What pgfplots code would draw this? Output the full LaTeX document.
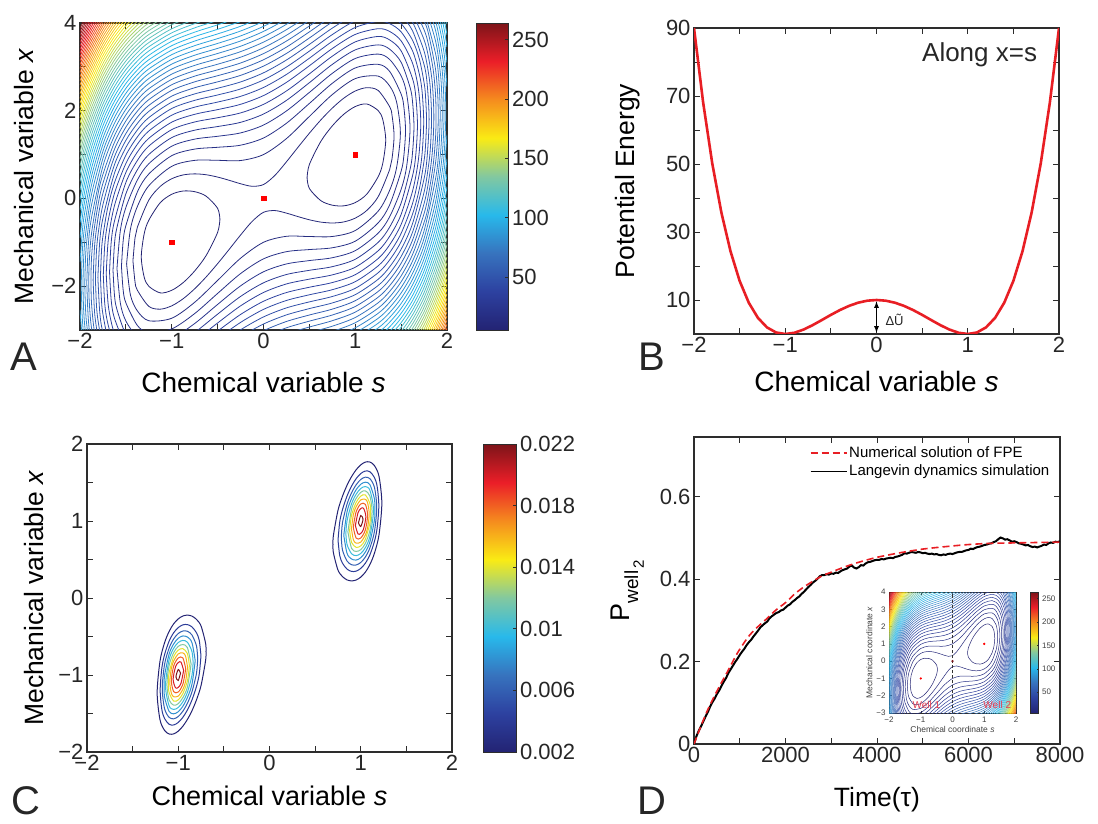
\documentclass[border=0pt]{standalone}
\usepackage{fontspec}
\setmainfont{Liberation Sans}
\setsansfont{Liberation Sans}
\usepackage{pgfplots}
\pgfplotsset{compat=1.18}

\definecolor{M0}{RGB}{35,35,115}
\definecolor{M1}{RGB}{45,65,160}
\definecolor{M2}{RGB}{55,115,190}
\definecolor{M3}{RGB}{40,185,235}
\definecolor{M4}{RGB}{130,200,160}
\definecolor{M5}{RGB}{250,235,20}
\definecolor{M6}{RGB}{245,140,30}
\definecolor{M7}{RGB}{235,30,40}
\definecolor{M8}{RGB}{125,20,25}
\definecolor{axgray}{RGB}{45,45,45}
\definecolor{curvered}{RGB}{232,30,36}
\definecolor{wellred}{RGB}{230,60,80}

\newcommand{\fs}[1]{\fontsize{#1}{#1}\selectfont}

\pgfplotsset{
  colormap={mjet}{rgb255(0cm)=(35,35,115) rgb255(1cm)=(45,65,160) rgb255(2cm)=(55,115,190)
    rgb255(3cm)=(40,185,235) rgb255(4cm)=(130,200,160) rgb255(5cm)=(250,235,20)
    rgb255(6cm)=(245,140,30) rgb255(7cm)=(235,30,40) rgb255(8cm)=(125,20,25)},
  panel/.style={
    scale only axis, anchor=south west,
    axis line style={line width=1.1pt, draw=axgray},
    tick style={line width=0.9pt, draw=axgray},
    tick align=inside,
    major tick length=6pt, minor tick length=6pt,
    ticklabel style={font=\fs{22}, text=black!85},
  },
  ctr/.style={line width=0.8pt, smooth},
}

% contour lines of the potential, levels 6 + 4.5k
\newcommand{\ContoursA}{%
\addplot[ctr,draw=M0] coordinates {(0.475,0.475)(0.5,0.774)(0.625,1.301)(0.75,1.654)(0.875,1.919)(1,2.095)(1.125,2.154)(1.25,2.003)(1.3,1.798)(1.332,1.332)(1.3,0.802)(1.25,0.497)(1.125,0.096)(1,-0.095)(0.875,-0.169)(0.75,-0.154)(0.625,-0.051)(0.5,0.226)(0.475,0.475)};
\addplot[ctr,draw=M0] coordinates {(-0.475,-0.475)(-0.5,-0.774)(-0.625,-1.301)(-0.75,-1.654)(-0.875,-1.919)(-1,-2.095)(-1.125,-2.154)(-1.25,-2.003)(-1.3,-1.798)(-1.332,-1.332)(-1.3,-0.802)(-1.25,-0.497)(-1.125,-0.096)(-1,0.095)(-0.875,0.169)(-0.75,0.154)(-0.625,0.051)(-0.5,-0.226)(-0.475,-0.475)};
\addplot[ctr,draw=M1!16!M0] coordinates {(-1.423,-1.423)(-1.4,-0.893)(-1.375,-0.658)(-1.25,-0.039)(-1.125,0.275)(-1,0.449)(-0.875,0.536)(-0.75,0.56)(-0.625,0.54)(-0.5,0.487)(-0.375,0.414)(-0.25,0.335)(-0.125,0.277)(0,0.316)(0.125,0.527)(0.25,0.835)(0.375,1.164)(0.5,1.487)(0.625,1.79)(0.75,2.06)(0.875,2.286)(1,2.449)(1.125,2.525)(1.25,2.461)(1.375,2.092)(1.4,1.907)(1.423,1.423)(1.4,0.893)(1.375,0.658)(1.25,0.039)(1.125,-0.275)(1,-0.449)(0.875,-0.536)(0.75,-0.56)(0.625,-0.54)(0.5,-0.487)(0.375,-0.414)(0.25,-0.335)(0.125,-0.277)(0,-0.316)(-0.125,-0.527)(-0.25,-0.835)(-0.375,-1.164)(-0.5,-1.487)(-0.625,-1.79)(-0.75,-2.06)(-0.875,-2.286)(-1,-2.449)(-1.125,-2.525)(-1.25,-2.461)(-1.375,-2.092)(-1.4,-1.907)(-1.423,-1.423)};
\addplot[ctr,draw=M1!30!M0] coordinates {(-1.492,-1.492)(-1.45,-0.696)(-1.375,-0.186)(-1.25,0.289)(-1,0.732)(-0.75,0.868)(-0.5,0.869)(-0.25,0.864)(0,1)(0.25,1.364)(0.5,1.869)(0.75,2.368)(1,2.732)(1.25,2.789)(1.375,2.564)(1.45,2.204)(1.492,1.492)(1.45,0.696)(1.375,0.186)(1.25,-0.289)(1,-0.732)(0.75,-0.868)(0.5,-0.869)(0.25,-0.864)(0,-1)(-0.25,-1.364)(-0.5,-1.869)(-0.75,-2.368)(-1,-2.732)(-1.25,-2.789)(-1.375,-2.564)(-1.45,-2.204)(-1.492,-1.492)};
\addplot[ctr,draw=M1!44!M0] coordinates {(-1.548,-1.548)(-1.53,-0.979)(-1.5,-0.62)(-1.375,0.146)(-1.25,0.557)(-1,0.975)(-0.75,1.125)(-0.5,1.166)(-0.25,1.214)(0,1.378)(0.25,1.714)(0.5,2.166)(0.75,2.625)(1,2.975)(1.25,3.057)(1.375,2.896)(1.5,2.38)(1.53,2.081)(1.548,1.548)(1.53,0.979)(1.5,0.62)(1.375,-0.146)(1.25,-0.557)(1,-0.975)(0.75,-1.125)(0.5,-1.166)(0.25,-1.214)(0,-1.378)(-0.25,-1.714)(-0.5,-2.166)(-0.75,-2.625)(-1,-2.975)(-1.25,-3.057)(-1.375,-2.896)(-1.5,-2.38)(-1.53,-2.081)(-1.548,-1.548)};
\addplot[ctr,draw=M1!58!M0] coordinates {(-1.597,-1.597)(-1.56,-0.729)(-1.5,-0.206)(-1.375,0.418)(-1.25,0.791)(-1,1.191)(-0.75,1.352)(-0.5,1.417)(-0.25,1.494)(0,1.673)(0.25,1.994)(0.5,2.417)(0.75,2.852)(1,3.191)(1.25,3.291)(1.375,3.168)(1.5,2.794)(1.56,2.391)(1.597,1.597)(1.56,0.729)(1.5,0.206)(1.375,-0.418)(1.25,-0.791)(1,-1.191)(0.75,-1.352)(0.5,-1.417)(0.25,-1.494)(0,-1.673)(-0.25,-1.994)(-0.5,-2.417)(-0.75,-2.852)(-1,-3.191)(-1.25,-3.291)(-1.375,-3.168)(-1.5,-2.794)(-1.56,-2.391)(-1.597,-1.597)};
\addplot[ctr,draw=M1!72!M0] coordinates {(-1.64,-1.64)(-1.625,-1.062)(-1.6,-0.687)(-1.5,0.105)(-1.375,0.653)(-1.25,1.001)(-1,1.387)(-0.75,1.556)(-0.5,1.639)(-0.25,1.735)(0,1.924)(0.25,2.235)(0.5,2.639)(0.75,3.056)(1,3.387)(1.25,3.501)(1.375,3.403)(1.5,3.105)(1.6,2.513)(1.625,2.188)(1.64,1.64)(1.625,1.062)(1.6,0.687)(1.5,-0.105)(1.375,-0.653)(1.25,-1.001)(1,-1.387)(0.75,-1.556)(0.5,-1.639)(0.25,-1.735)(0,-1.924)(-0.25,-2.235)(-0.5,-2.639)(-0.75,-3.056)(-1,-3.387)(-1.25,-3.501)(-1.375,-3.403)(-1.5,-3.105)(-1.6,-2.513)(-1.625,-2.188)(-1.64,-1.64)};
\addplot[ctr,draw=M1!86!M0] coordinates {(-1.678,-1.678)(-1.66,-1)(-1.625,-0.522)(-1.5,0.364)(-1.375,0.864)(-1.25,1.193)(-1,1.569)(-0.75,1.743)(-0.5,1.84)(-0.25,1.95)(0,2.145)(0.25,2.45)(0.5,2.84)(0.75,3.243)(1,3.569)(1.25,3.693)(1.375,3.614)(1.5,3.364)(1.625,2.728)(1.66,2.32)(1.678,1.678)(1.66,1)(1.625,0.522)(1.5,-0.364)(1.375,-0.864)(1.25,-1.193)(1,-1.569)(0.75,-1.743)(0.5,-1.84)(0.25,-1.95)(0,-2.145)(-0.25,-2.45)(-0.5,-2.84)(-0.75,-3.243)(-1,-3.569)(-1.25,-3.693)(-1.375,-3.614)(-1.5,-3.364)(-1.625,-2.728)(-1.66,-2.32)(-1.678,-1.678)};
\addplot[ctr,draw=M1] coordinates {(-1.714,-1.714)(-1.69,-0.909)(-1.625,-0.17)(-1.5,0.592)(-1.375,1.057)(-1.25,1.37)(-1,1.739)(-0.75,1.918)(-0.5,2.025)(-0.25,2.146)(0,2.345)(0.25,2.646)(0.5,3.025)(0.75,3.418)(1,3.739)(1.25,3.87)(1.375,3.807)(1.5,3.592)(1.625,3.08)(1.69,2.471)(1.714,1.714)(1.69,0.909)(1.625,0.17)(1.5,-0.592)(1.375,-1.057)(1.25,-1.37)(1,-1.739)(0.75,-1.918)(0.5,-2.025)(0.25,-2.146)(0,-2.345)(-0.25,-2.646)(-0.5,-3.025)(-0.75,-3.418)(-1,-3.739)(-1.25,-3.87)(-1.375,-3.807)(-1.5,-3.592)(-1.625,-3.08)(-1.69,-2.471)(-1.714,-1.714)};
\addplot[ctr,draw=M2!13!M1] coordinates {(-1.746,-1.746)(-1.73,-1.054)(-1.7,-0.579)(-1.625,0.112)(-1.5,0.797)(-1.375,1.235)(-1.25,1.537)(-1,1.898)(-0.75,2.081)(-0.5,2.197)(-0.25,2.327)(0,2.53)(0.25,2.827)(0.5,3.197)(0.75,3.581)(1,3.898)(1.25,4.037)(1.375,3.985)(1.5,3.797)(1.625,3.362)(1.7,2.821)(1.73,2.406)(1.746,1.746)(1.73,1.054)(1.7,0.579)(1.625,-0.112)(1.5,-0.797)(1.375,-1.235)(1.25,-1.537)(1,-1.898)(0.75,-2.081)(0.5,-2.197)(0.25,-2.327)(0,-2.53)(-0.25,-2.827)(-0.5,-3.197)(-0.75,-3.581)(-1,-3.898)(-1.25,-4.037)(-1.375,-3.985)(-1.5,-3.797)(-1.625,-3.362)(-1.7,-2.821)(-1.73,-2.406)(-1.746,-1.746)};
\addplot[ctr,draw=M2!27!M1] coordinates {(-1.777,-1.777)(-1.765,-1.172)(-1.75,-0.86)(-1.7,-0.232)(-1.625,0.354)(-1.5,0.985)(-1.375,1.402)(-1.25,1.694)(-1,2.05)(-0.75,2.236)(-0.5,2.359)(-0.25,2.496)(0,2.702)(0.25,2.996)(0.5,3.359)(0.75,3.736)(1,4.05)(1.25,4.194)(1.375,4.152)(1.5,3.985)(1.625,3.604)(1.7,3.168)(1.75,2.64)(1.765,2.358)(1.777,1.777)(1.765,1.172)(1.75,0.86)(1.7,0.232)(1.625,-0.354)(1.5,-0.985)(1.375,-1.402)(1.25,-1.694)(1,-2.05)(0.75,-2.236)(0.5,-2.359)(0.25,-2.496)(0,-2.702)(-0.25,-2.996)(-0.5,-3.359)(-0.75,-3.736)(-1,-4.05)(-1.25,-4.194)(-1.375,-4.152)(-1.5,-3.985)(-1.625,-3.604)(-1.7,-3.168)(-1.75,-2.64)(-1.765,-2.358)(-1.777,-1.777)};
\addplot[ctr,draw=M2!41!M1] coordinates {(-1.805,-1.805)(-1.785,-0.985)(-1.75,-0.449)(-1.625,0.57)(-1.5,1.16)(-1.375,1.56)(-1.25,1.843)(-1,2.194)(-0.75,2.383)(-0.5,2.512)(-0.25,2.656)(0,2.864)(0.25,3.156)(0.5,3.512)(0.75,3.883)(1,4.194)(1.25,4.343)(1.375,4.31)(1.5,4.16)(1.625,3.82)(1.75,3.051)(1.785,2.585)(1.805,1.805)(1.785,0.985)(1.75,0.449)(1.625,-0.57)(1.5,-1.16)(1.375,-1.56)(1.25,-1.843)(1,-2.194)(0.75,-2.383)(0.5,-2.512)(0.25,-2.656)(0,-2.864)(-0.25,-3.156)(-0.5,-3.512)(-0.75,-3.883)(-1,-4.194)(-1.25,-4.343)(-1.375,-4.31)(-1.5,-4.16)(-1.625,-3.82)(-1.75,-3.051)(-1.785,-2.585)(-1.805,-1.805)};
\addplot[ctr,draw=M2!55!M1] coordinates {(-1.832,-1.832)(-1.82,-1.183)(-1.8,-0.768)(-1.75,-0.14)(-1.625,0.766)(-1.5,1.324)(-1.375,1.709)(-1.25,1.985)(-1,2.332)(-0.75,2.524)(-0.5,2.658)(-0.25,2.806)(0,3.017)(0.25,3.306)(0.5,3.658)(0.75,4.024)(1,4.332)(1.25,4.485)(1.375,4.459)(1.5,4.324)(1.625,4.016)(1.75,3.36)(1.8,2.832)(1.82,2.457)(1.832,1.832)(1.82,1.183)(1.8,0.768)(1.75,0.14)(1.625,-0.766)(1.5,-1.324)(1.375,-1.709)(1.25,-1.985)(1,-2.332)(0.75,-2.524)(0.5,-2.658)(0.25,-2.806)(0,-3.017)(-0.25,-3.306)(-0.5,-3.658)(-0.75,-4.024)(-1,-4.332)(-1.25,-4.485)(-1.375,-4.459)(-1.5,-4.324)(-1.625,-4.016)(-1.75,-3.36)(-1.8,-2.832)(-1.82,-2.457)(-1.832,-1.832)};
\addplot[ctr,draw=M2!69!M1] coordinates {(-1.857,-1.857)(-1.84,-1.054)(-1.8,-0.398)(-1.75,0.119)(-1.625,0.947)(-1.5,1.479)(-1.375,1.852)(-1.25,2.121)(-1,2.464)(-0.75,2.658)(-0.5,2.798)(-0.25,2.95)(0,3.162)(0.25,3.45)(0.5,3.798)(0.75,4.158)(1,4.464)(1.25,4.621)(1.5,4.479)(1.625,4.197)(1.75,3.619)(1.8,3.202)(1.84,2.626)(1.857,1.857)(1.84,1.054)(1.8,0.398)(1.75,-0.119)(1.625,-0.947)(1.5,-1.479)(1.375,-1.852)(1.25,-2.121)(1,-2.464)(0.75,-2.658)(0.5,-2.798)(0.25,-2.95)(0,-3.162)(-0.25,-3.45)(-0.5,-3.798)(-0.75,-4.158)(-1,-4.464)(-1.25,-4.621)(-1.5,-4.479)(-1.625,-4.197)(-1.75,-3.619)(-1.8,-3.202)(-1.84,-2.626)(-1.857,-1.857)};
\addplot[ctr,draw=M2!83!M1] coordinates {(-1.881,-1.881)(-1.875,-1.382)(-1.85,-0.772)(-1.8,-0.107)(-1.75,0.346)(-1.625,1.117)(-1.5,1.626)(-1.375,1.989)(-1.25,2.252)(-1,2.592)(-0.75,2.788)(-0.5,2.932)(-0.25,3.088)(0,3.302)(0.25,3.588)(0.5,3.932)(0.75,4.288)(1,4.592)(1.5,4.626)(1.625,4.367)(1.75,3.846)(1.8,3.493)(1.85,2.928)(1.875,2.368)(1.881,1.881)(1.875,1.382)(1.85,0.772)(1.8,0.107)(1.75,-0.346)(1.625,-1.117)(1.5,-1.626)(1.375,-1.989)(1.25,-2.252)(1,-2.592)(0.75,-2.788)(0.5,-2.932)(0.25,-3.088)(0,-3.302)(-0.25,-3.588)(-0.5,-3.932)(-0.75,-4.288)(-1,-4.592)(-1.5,-4.626)(-1.625,-4.367)(-1.75,-3.846)(-1.8,-3.493)(-1.85,-2.928)(-1.875,-2.368)(-1.881,-1.881)};
\addplot[ctr,draw=M2] coordinates {(-1.904,-1.904)(-1.9,-1.48)(-1.875,-0.806)(-1.8,0.14)(-1.75,0.55)(-1.625,1.276)(-1.5,1.767)(-1.375,2.12)(-1.25,2.379)(-1,2.715)(-0.75,2.913)(-0.5,3.06)(-0.25,3.22)(0,3.435)(0.25,3.72)(0.5,4.06)(0.75,4.413)(1.5,4.767)(1.625,4.526)(1.75,4.05)(1.8,3.74)(1.875,2.944)(1.9,2.32)(1.904,1.904)(1.9,1.48)(1.875,0.806)(1.8,-0.14)(1.75,-0.55)(1.625,-1.276)(1.5,-1.767)(1.375,-2.12)(1.25,-2.379)(1,-2.715)(0.75,-2.913)(0.5,-3.06)(0.25,-3.22)(0,-3.435)(-0.25,-3.72)(-0.5,-4.06)(-0.75,-4.413)(-1.5,-4.767)(-1.625,-4.526)(-1.75,-4.05)(-1.8,-3.74)(-1.875,-2.944)(-1.9,-2.32)(-1.904,-1.904)};
\addplot[ctr,draw=M3!11!M2] coordinates {(-1.926,-1.926)(-1.91,-1.088)(-1.875,-0.446)(-1.75,0.738)(-1.625,1.427)(-1.5,1.902)(-1.375,2.246)(-1.25,2.501)(-1,2.834)(-0.75,3.034)(-0.5,3.184)(-0.25,3.347)(0,3.564)(0.25,3.847)(0.5,4.184)(0.75,4.534)(1.5,4.902)(1.625,4.677)(1.75,4.238)(1.875,3.304)(1.91,2.732)(1.926,1.926)(1.91,1.088)(1.875,0.446)(1.75,-0.738)(1.625,-1.427)(1.5,-1.902)(1.375,-2.246)(1.25,-2.501)(1,-2.834)(0.75,-3.034)(0.5,-3.184)(0.25,-3.347)(0,-3.564)(-0.25,-3.847)(-0.5,-4.184)(-0.75,-4.534)(-1.5,-4.902)(-1.625,-4.677)(-1.75,-4.238)(-1.875,-3.304)(-1.91,-2.732)(-1.926,-1.926)};
\addplot[ctr,draw=M3!25!M2] coordinates {(-1.948,-1.948)(-1.94,-1.37)(-1.925,-0.946)(-1.875,-0.159)(-1.75,0.913)(-1.625,1.571)(-1.5,2.032)(-1.375,2.369)(-1.25,2.619)(-1,2.95)(-0.75,3.151)(-0.5,3.305)(-0.25,3.47)(0,3.688)(0.25,3.97)(0.5,4.305)(0.75,4.651)(1.5,5.032)(1.625,4.821)(1.75,4.413)(1.875,3.591)(1.925,2.904)(1.94,2.51)(1.948,1.948)(1.94,1.37)(1.925,0.946)(1.875,0.159)(1.75,-0.913)(1.625,-1.571)(1.5,-2.032)(1.375,-2.369)(1.25,-2.619)(1,-2.95)(0.75,-3.151)(0.5,-3.305)(0.25,-3.47)(0,-3.688)(-0.25,-3.97)(-0.5,-4.305)(-0.75,-4.651)(-1.5,-5.032)(-1.625,-4.821)(-1.75,-4.413)(-1.875,-3.591)(-1.925,-2.904)(-1.94,-2.51)(-1.948,-1.948)};
\addplot[ctr,draw=M3!39!M2] coordinates {(-1.968,-1.968)(-1.96,-1.368)(-1.94,-0.833)(-1.875,0.085)(-1.75,1.077)(-1.625,1.709)(-1.5,2.157)(-1.375,2.487)(-1.25,2.733)(-1,3.062)(-0.75,3.265)(-0.5,3.421)(-0.25,3.59)(0,3.808)(0.25,4.09)(0.5,4.421)(1.5,5.157)(1.625,4.959)(1.75,4.577)(1.875,3.835)(1.94,3.047)(1.96,2.552)(1.968,1.968)(1.96,1.368)(1.94,0.833)(1.875,-0.085)(1.75,-1.077)(1.625,-1.709)(1.5,-2.157)(1.375,-2.487)(1.25,-2.733)(1,-3.062)(0.75,-3.265)(0.5,-3.421)(0.25,-3.59)(0,-3.808)(-0.25,-4.09)(-0.5,-4.421)(-1.5,-5.157)(-1.625,-4.959)(-1.75,-4.577)(-1.875,-3.835)(-1.94,-3.047)(-1.96,-2.552)(-1.968,-1.968)};
\addplot[ctr,draw=M3!53!M2] coordinates {(-1.987,-1.987)(-1.975,-1.218)(-1.95,-0.649)(-1.875,0.303)(-1.75,1.232)(-1.625,1.842)(-1.5,2.278)(-1.375,2.602)(-1.25,2.845)(-1,3.171)(-0.75,3.375)(-0.5,3.534)(-0.25,3.705)(0,3.924)(0.25,4.205)(0.5,4.534)(1.5,5.278)(1.625,5.092)(1.75,4.732)(1.875,4.053)(1.95,3.251)(1.975,2.732)(1.987,1.987)(1.975,1.218)(1.95,0.649)(1.875,-0.303)(1.75,-1.232)(1.625,-1.842)(1.5,-2.278)(1.375,-2.602)(1.25,-2.845)(1,-3.171)(0.75,-3.375)(0.5,-3.534)(0.25,-3.705)(0,-3.924)(-0.25,-4.205)(-0.5,-4.534)(-1.5,-5.278)(-1.625,-5.092)(-1.75,-4.732)(-1.875,-4.053)(-1.95,-3.251)(-1.975,-2.732)(-1.987,-1.987)};
% open levels
\addplot[ctr,draw=M3!67!M2] coordinates {(-2,-1.452)(-1.975,-0.761)(-1.95,-0.34)(-1.875,0.501)(-1.75,1.379)(-1.625,1.969)(-1.5,2.396)(-1.375,2.713)(-1.25,2.953)(-1,3.278)(-0.75,3.483)(-0.5,3.644)(-0.25,3.817)(0,4.037)(0.25,4.317)};
\addplot[ctr,draw=M3!67!M2] coordinates {(2,1.452)(1.975,0.761)(1.95,0.34)(1.875,-0.501)(1.75,-1.379)(1.625,-1.969)(1.5,-2.396)(1.375,-2.713)(1.25,-2.953)(1,-3.278)(0.75,-3.483)};
\addplot[ctr,draw=M3!67!M2] coordinates {(1.875,4.251)(1.925,3.838)(1.95,3.56)(1.975,3.189)(2,2.548)};
\addplot[ctr,draw=M3!67!M2] coordinates {(-1.925,-3.838)(-1.95,-3.56)(-1.975,-3.189)(-2,-2.548)};
\addplot[ctr,draw=M3!80!M2] coordinates {(-2,-0.905)(-1.975,-0.435)(-1.95,-0.081)(-1.875,0.683)(-1.75,1.52)(-1.625,2.092)(-1.5,2.509)(-1.375,2.822)(-1.25,3.059)(-1,3.382)(-0.75,3.588)(-0.5,3.751)(-0.25,3.926)(0,4.147)};
\addplot[ctr,draw=M3!80!M2] coordinates {(2,0.905)(1.975,0.435)(1.95,0.081)(1.875,-0.683)(1.75,-1.52)(1.625,-2.092)(1.5,-2.509)(1.375,-2.822)(1.25,-3.059)(1,-3.382)};
\addplot[ctr,draw=M3!80!M2] coordinates {(1.875,4.433)(1.925,4.06)(1.95,3.819)(1.975,3.515)(2,3.095)};
\addplot[ctr,draw=M3!94!M2] coordinates {(-2,-0.551)(-1.95,0.146)(-1.875,0.853)(-1.75,1.655)(-1.625,2.211)(-1.5,2.62)(-1.375,2.928)(-1.25,3.162)(-1,3.483)(-0.75,3.69)(-0.5,3.856)(-0.25,4.033)};
\addplot[ctr,draw=M3!94!M2] coordinates {(2,0.551)(1.95,-0.146)(1.875,-0.853)(1.75,-1.655)(1.625,-2.211)(1.5,-2.62)(1.375,-2.928)(1.25,-3.162)(1,-3.483)};
\addplot[ctr,draw=M3!94!M2] coordinates {(1.9,4.445)(1.95,4.046)(1.975,3.784)(2,3.449)};
\addplot[ctr,draw=M4!8!M3] coordinates {(-2,-0.268)(-1.95,0.35)(-1.875,1.013)(-1.75,1.784)(-1.625,2.327)(-1.5,2.728)(-1.375,3.031)(-1.25,3.263)(-1,3.583)(-0.75,3.791)(-0.5,3.958)(-0.25,4.137)};
\addplot[ctr,draw=M4!8!M3] coordinates {(2,0.268)(1.95,-0.35)(1.875,-1.013)(1.75,-1.784)(1.625,-2.327)(1.5,-2.728)(1.375,-3.031)(1.25,-3.263)};
\addplot[ctr,draw=M4!8!M3] coordinates {(1.95,4.25)(1.975,4.018)(2,3.732)};
\addplot[ctr,draw=M4!22!M3] coordinates {(-2,-0.025)(-1.95,0.538)(-1.875,1.165)(-1.75,1.91)(-1.625,2.439)(-1.5,2.833)(-1.375,3.132)(-1.25,3.362)(-1,3.68)(-0.75,3.889)(-0.5,4.058)};
\addplot[ctr,draw=M4!22!M3] coordinates {(2,0.025)(1.95,-0.538)(1.875,-1.165)(1.75,-1.91)(1.625,-2.439)(1.5,-2.833)(1.375,-3.132)(1.25,-3.362)};
\addplot[ctr,draw=M4!22!M3] coordinates {(1.975,4.227)(2,3.975)};
\addplot[ctr,draw=M4!36!M3] coordinates {(-2,0.191)(-1.95,0.713)(-1.875,1.31)(-1.75,2.03)(-1.625,2.548)(-1.5,2.936)(-1.375,3.231)(-1.25,3.458)(-1,3.775)(-0.75,3.985)(-0.5,4.156)};
\addplot[ctr,draw=M4!36!M3] coordinates {(2,-0.191)(1.95,-0.713)(1.875,-1.31)(1.75,-2.03)(1.625,-2.548)(1.5,-2.936)(1.375,-3.231)(1.25,-3.458)};
\addplot[ctr,draw=M4!50!M3] coordinates {(-2,0.387)(-1.95,0.877)(-1.875,1.448)(-1.75,2.148)(-1.625,2.655)(-1.5,3.036)(-1.375,3.328)(-1.25,3.553)(-1,3.868)(-0.75,4.079)};
\addplot[ctr,draw=M4!50!M3] coordinates {(2,-0.387)(1.95,-0.877)(1.875,-1.448)(1.75,-2.148)(1.625,-2.655)(1.5,-3.036)(1.375,-3.328)};
\addplot[ctr,draw=M4!64!M3] coordinates {(-2,0.569)(-1.95,1.032)(-1.875,1.581)(-1.75,2.261)(-1.625,2.759)(-1.5,3.134)(-1.375,3.422)(-1.25,3.646)(-1,3.96)(-0.75,4.171)};
\addplot[ctr,draw=M4!64!M3] coordinates {(2,-0.569)(1.95,-1.032)(1.875,-1.581)(1.75,-2.261)(1.625,-2.759)(1.5,-3.134)};
\addplot[ctr,draw=M4!78!M3] coordinates {(-2,0.739)(-1.95,1.179)(-1.875,1.709)(-1.75,2.372)(-1.625,2.86)(-1.5,3.23)(-1.375,3.515)(-1.25,3.737)(-1,4.05)};
\addplot[ctr,draw=M4!78!M3] coordinates {(2,-0.739)(1.95,-1.179)(1.875,-1.709)(1.75,-2.372)(1.625,-2.86)(1.5,-3.23)};
\addplot[ctr,draw=M4!92!M3] coordinates {(-2,0.898)(-1.95,1.32)(-1.875,1.832)(-1.75,2.48)(-1.625,2.959)(-1.5,3.324)(-1.375,3.606)(-1.25,3.826)(-1,4.138)};
\addplot[ctr,draw=M4!92!M3] coordinates {(2,-0.898)(1.95,-1.32)(1.875,-1.832)(1.75,-2.48)(1.625,-2.959)(1.5,-3.324)};
\addplot[ctr,draw=M5!6!M4] coordinates {(-2,1.05)(-1.95,1.455)(-1.875,1.952)(-1.75,2.585)(-1.625,3.057)(-1.5,3.417)(-1.375,3.696)(-1.25,3.914)(-1,4.225)};
\addplot[ctr,draw=M5!6!M4] coordinates {(2,-1.05)(1.95,-1.455)(1.875,-1.952)(1.75,-2.585)(1.625,-3.057)};
\addplot[ctr,draw=M5!20!M4] coordinates {(-2,1.194)(-1.95,1.584)(-1.875,2.067)(-1.75,2.688)(-1.625,3.152)(-1.5,3.508)(-1.375,3.784)(-1.25,4)(-1,4.31)};
\addplot[ctr,draw=M5!20!M4] coordinates {(2,-1.194)(1.95,-1.584)(1.875,-2.067)(1.75,-2.688)(1.625,-3.152)};
\addplot[ctr,draw=M5!34!M4] coordinates {(-2,1.332)(-1.95,1.71)(-1.875,2.18)(-1.75,2.788)(-1.625,3.245)(-1.5,3.597)(-1.375,3.87)(-1.25,4.085)};
\addplot[ctr,draw=M5!34!M4] coordinates {(2,-1.332)(1.95,-1.71)(1.875,-2.18)(1.75,-2.788)(1.625,-3.245)};
\addplot[ctr,draw=M5!47!M4] coordinates {(-2,1.464)(-1.95,1.83)(-1.875,2.29)(-1.75,2.886)(-1.625,3.337)(-1.5,3.684)(-1.375,3.955)(-1.25,4.169)};
\addplot[ctr,draw=M5!47!M4] coordinates {(2,-1.464)(1.95,-1.83)(1.875,-2.29)(1.75,-2.886)(1.625,-3.337)};
\addplot[ctr,draw=M5!61!M4] coordinates {(-2,1.592)(-1.95,1.948)(-1.875,2.396)(-1.75,2.982)(-1.625,3.426)(-1.5,3.77)(-1.375,4.039)};
\addplot[ctr,draw=M5!61!M4] coordinates {(2,-1.592)(1.95,-1.948)(1.875,-2.396)(1.75,-2.982)(1.625,-3.426)};
\addplot[ctr,draw=M5!75!M4] coordinates {(-2,1.715)(-1.95,2.061)(-1.875,2.5)(-1.75,3.076)(-1.625,3.515)(-1.5,3.855)(-1.375,4.122)};
\addplot[ctr,draw=M5!75!M4] coordinates {(2,-1.715)(1.95,-2.061)(1.875,-2.5)(1.75,-3.076)};
\addplot[ctr,draw=M5!89!M4] coordinates {(-2,1.834)(-1.95,2.172)(-1.875,2.602)(-1.75,3.169)(-1.625,3.602)(-1.5,3.938)(-1.375,4.203)};
\addplot[ctr,draw=M5!89!M4] coordinates {(2,-1.834)(1.95,-2.172)(1.875,-2.602)(1.75,-3.169)};
\addplot[ctr,draw=M6!3!M5] coordinates {(-2,1.95)(-1.95,2.28)(-1.875,2.701)(-1.75,3.259)(-1.625,3.687)(-1.5,4.02)};
\addplot[ctr,draw=M6!3!M5] coordinates {(2,-1.95)(1.95,-2.28)(1.875,-2.701)(1.75,-3.259)};
\addplot[ctr,draw=M6!17!M5] coordinates {(-2,2.062)(-1.95,2.385)(-1.875,2.799)(-1.75,3.348)(-1.625,3.771)(-1.5,4.101)};
\addplot[ctr,draw=M6!17!M5] coordinates {(2,-2.062)(1.95,-2.385)(1.875,-2.799)(1.75,-3.348)};
\addplot[ctr,draw=M6!31!M5] coordinates {(-2,2.171)(-1.95,2.488)(-1.875,2.894)(-1.75,3.436)(-1.625,3.854)(-1.5,4.181)};
\addplot[ctr,draw=M6!31!M5] coordinates {(2,-2.171)(1.95,-2.488)(1.875,-2.894)(1.75,-3.436)};
\addplot[ctr,draw=M6!45!M5] coordinates {(-2,2.278)(-1.95,2.588)(-1.875,2.987)(-1.75,3.522)(-1.625,3.935)(-1.5,4.26)};
\addplot[ctr,draw=M6!45!M5] coordinates {(2,-2.278)(1.95,-2.588)(1.875,-2.987)(1.75,-3.522)};
\addplot[ctr,draw=M6!59!M5] coordinates {(-2,2.382)(-1.95,2.686)(-1.875,3.079)(-1.75,3.607)(-1.625,4.016)};
\addplot[ctr,draw=M6!59!M5] coordinates {(2,-2.382)(1.95,-2.686)(1.875,-3.079)};
\addplot[ctr,draw=M6!73!M5] coordinates {(-2,2.483)(-1.95,2.782)(-1.875,3.169)(-1.75,3.69)(-1.625,4.095)};
\addplot[ctr,draw=M6!73!M5] coordinates {(2,-2.483)(1.95,-2.782)(1.875,-3.169)};
\addplot[ctr,draw=M6!87!M5] coordinates {(-2,2.583)(-1.95,2.876)(-1.875,3.258)(-1.75,3.772)(-1.625,4.173)};
\addplot[ctr,draw=M6!87!M5] coordinates {(2,-2.583)(1.95,-2.876)(1.875,-3.258)};
\addplot[ctr,draw=M6] coordinates {(-2,2.68)(-1.95,2.969)(-1.875,3.344)(-1.75,3.853)(-1.625,4.25)};
\addplot[ctr,draw=M6] coordinates {(2,-2.68)(1.95,-2.969)(1.875,-3.344)};
\addplot[ctr,draw=M7!14!M6] coordinates {(-2,2.775)(-1.95,3.059)(-1.875,3.43)(-1.75,3.933)(-1.625,4.326)};
\addplot[ctr,draw=M7!14!M6] coordinates {(2,-2.775)(1.95,-3.059)};
\addplot[ctr,draw=M7!28!M6] coordinates {(-2,2.868)(-1.95,3.148)(-1.875,3.514)(-1.75,4.011)};
\addplot[ctr,draw=M7!28!M6] coordinates {(2,-2.868)(1.95,-3.148)};
\addplot[ctr,draw=M7!42!M6] coordinates {(-2,2.96)(-1.95,3.236)(-1.875,3.597)(-1.75,4.089)};
\addplot[ctr,draw=M7!42!M6] coordinates {(2,-2.96)(1.95,-3.236)};
\addplot[ctr,draw=M7!56!M6] coordinates {(-2,3.05)(-1.95,3.322)(-1.875,3.679)(-1.75,4.165)};
\addplot[ctr,draw=M7!70!M6] coordinates {(-2,3.138)(-1.95,3.407)(-1.875,3.759)(-1.75,4.241)};
\addplot[ctr,draw=M7!84!M6] coordinates {(-2,3.225)(-1.95,3.49)(-1.875,3.838)(-1.75,4.316)};
\addplot[ctr,draw=M7] coordinates {(-2,3.31)(-1.95,3.572)(-1.875,3.917)(-1.75,4.389)};
\addplot[ctr,draw=M8!12!M7] coordinates {(-2,3.394)(-1.95,3.653)(-1.875,3.994)(-1.75,4.462)};
\addplot[ctr,draw=M8!26!M7] coordinates {(-2,3.477)(-1.95,3.733)(-1.875,4.07)};
\addplot[ctr,draw=M8!40!M7] coordinates {(-2,3.559)(-1.95,3.811)(-1.875,4.145)};
\addplot[ctr,draw=M8!54!M7] coordinates {(-2,3.639)(-1.95,3.889)(-1.875,4.22)};
\addplot[ctr,draw=M8!67!M7] coordinates {(-2,3.718)(-1.95,3.965)(-1.875,4.293)};
\addplot[ctr,draw=M8!81!M7] coordinates {(-2,3.797)(-1.95,4.041)};
\addplot[ctr,draw=M8!95!M7] coordinates {(-2,3.874)(-1.95,4.116)};
}

\begin{document}
\begin{tikzpicture}[x=1pt,y=1pt]
\useasboundingbox (0,0) rectangle (1098,823);

% ---------------- A ----------------
\begin{axis}[panel, at={(80pt,493pt)}, width=367pt, height=307pt,
  xmin=-2, xmax=2, ymin=-3, ymax=4,
  xtick={-2,-1,0,1,2}, xticklabels={−2,−1,0,1,2}, minor xtick={-1.5,-0.5,0.5,1.5},
  ytick={-2,0,2,4}, yticklabels={−2,0,2,4}, minor ytick={-3,-1,1,3},
  every axis x label/.style={at={(axis description cs:0.5,-0.202)}, anchor=base, font=\fs{28}},
  every axis y label/.style={at={(axis description cs:-0.128,0.5)}, rotate=90, anchor=base, font=\fs{26.5}},
  xlabel={Chemical variable \textit{s}}, ylabel={Mechanical variable \textit{x}},
  colormap name=mjet, colorbar, point meta min=5.3, point meta max=264,
  colorbar/width=32pt,
  colorbar style={at={(parent axis.north east)}, anchor=north west, xshift=21pt,
    scale only axis, width=32pt, height=307pt,
    axis line style={line width=0.9pt, draw=axgray},
    scaled y ticks=false,
    ytick={50,100,150,200,250}, yticklabels={50,100,150,200,250},
    ytick pos=right, yticklabel pos=right, tick align=inside, major tick length=4pt,
    tick style={line width=0.8pt, draw=axgray},
    yticklabel style={font=\fs{22}, text=black!85}},
]
\ContoursA
\addplot[only marks, mark=square*, mark size=2.2pt, color=red] coordinates {(-1,-1)(0,0)(1,1)};
\end{axis}

% ---------------- B ----------------
\begin{axis}[panel, at={(694pt,489pt)}, width=365pt, height=306pt,
  xmin=-2, xmax=2, ymin=0, ymax=90,
  xtick={-2,-1,0,1,2}, xticklabels={−2,−1,0,1,2}, minor xtick={-1.5,-0.5,0.5,1.5},
  ytick={10,30,50,70,90}, yticklabels={10,30,50,70,90}, minor ytick={20,40,60,80},
  every axis x label/.style={at={(axis description cs:0.5,-0.189)}, anchor=base, font=\fs{28}},
  every axis y label/.style={at={(axis description cs:-0.164,0.5)}, rotate=90, anchor=base, font=\fs{26.5}},
  xlabel={Chemical variable \textit{s}}, ylabel={Potential Energy},
]
\addplot[curvered, line width=2.6pt, sharp plot] coordinates {
(-2,90)(-1.9,68.121)(-1.8,50.176)(-1.7,35.721)(-1.6,24.336)(-1.5,15.625)(-1.4,9.216)(-1.3,4.761)(-1.2,1.936)(-1.1,0.441)(-1,0)
(-0.9,0.361)(-0.8,1.296)(-0.7,2.601)(-0.6,4.096)(-0.5,5.625)(-0.4,7.056)(-0.3,8.281)(-0.2,9.216)(-0.1,9.801)(0,10)
(0.1,9.801)(0.2,9.216)(0.3,8.281)(0.4,7.056)(0.5,5.625)(0.6,4.096)(0.7,2.601)(0.8,1.296)(0.9,0.361)(1,0)
(1.1,0.441)(1.2,1.936)(1.3,4.761)(1.4,9.216)(1.5,15.625)(1.6,24.336)(1.7,35.721)(1.8,50.176)(1.9,68.121)(2,90)};
\draw[<->, >=latex, line width=1.2pt, black] (axis cs:0,0.4) -- (axis cs:0,9.6);
\node[anchor=west, font=\fs{13}, text=black!85] at (axis cs:0.06,4.2) {ΔŨ};
\node[anchor=base, font=\fs{26}, text=black!85] at (axis cs:1.13,80) {Along x=s};
\end{axis}

% ---------------- C ----------------
\begin{axis}[panel, at={(87pt,71pt)}, width=365pt, height=308pt,
  xmin=-2, xmax=2, ymin=-2, ymax=2,
  xtick={-2,-1,0,1,2}, xticklabels={−2,−1,0,1,2}, minor xtick={-1.5,-0.5,0.5,1.5},
  ytick={-2,-1,0,1,2}, yticklabels={−2,−1,0,1,2}, minor ytick={-1.5,-0.5,0.5,1.5},
  every axis x label/.style={at={(axis description cs:0.5,-0.175)}, anchor=base, font=\fs{27}},
  every axis y label/.style={at={(axis description cs:-0.12,0.5)}, rotate=90, anchor=base, font=\fs{26.5}},
  xlabel={Chemical variable \textit{s}}, ylabel={Mechanical variable \textit{x}},
  colormap name=mjet, colorbar, point meta min=0.002, point meta max=0.022,
  colorbar/width=33pt,
  colorbar style={at={(parent axis.north east)}, anchor=north west, xshift=23pt,
    scale only axis, width=33pt, height=308pt,
    axis line style={line width=0.9pt, draw=axgray},
    scaled y ticks=false,
    ytick={0.002,0.006,0.01,0.014,0.018,0.022}, yticklabels={0.002,0.006,0.01,0.014,0.018,0.022},
    ytick pos=right, yticklabel pos=right, tick align=inside, major tick length=4pt,
    tick style={line width=0.8pt, draw=axgray},
    yticklabel style={font=\fs{22}, text=black!85}},
]
\pgfplotsset{ctr/.style={line width=1pt, smooth}}
\addplot[ctr,draw=M0] coordinates {(0.696,0.696)(0.7,0.81)(0.75,1.136)(0.8,1.322)(0.85,1.465)(0.9,1.578)(0.95,1.666)(1,1.729)(1.05,1.765)(1.1,1.766)(1.15,1.719)(1.2,1.581)(1.231,1.231)(1.2,0.819)(1.15,0.581)(1.1,0.434)(1.05,0.335)(1,0.271)(0.95,0.234)(0.9,0.222)(0.85,0.235)(0.8,0.278)(0.75,0.364)(0.7,0.59)(0.696,0.696)};
\addplot[ctr,draw=M1!80!M0] coordinates {(0.751,0.751)(0.77,0.991)(0.8,1.148)(0.85,1.325)(0.9,1.455)(0.95,1.551)(1,1.616)(1.05,1.649)(1.1,1.64)(1.15,1.565)(1.18,1.448)(1.198,1.198)(1.18,0.912)(1.15,0.735)(1.1,0.56)(1.05,0.451)(1,0.384)(0.95,0.349)(0.9,0.345)(0.85,0.375)(0.8,0.452)(0.77,0.549)(0.751,0.751)};
\addplot[ctr,draw=M2!60!M1] coordinates {(0.787,0.787)(0.8,0.978)(0.85,1.22)(0.9,1.368)(0.95,1.471)(1,1.539)(1.05,1.569)(1.1,1.55)(1.15,1.438)(1.175,1.175)(1.15,0.862)(1.1,0.65)(1.05,0.531)(1,0.461)(0.95,0.429)(0.9,0.432)(0.85,0.48)(0.8,0.622)(0.787,0.787)};
\addplot[ctr,draw=M3!40!M2] coordinates {(0.814,0.814)(0.85,1.121)(0.9,1.294)(0.95,1.407)(1,1.477)(1.05,1.504)(1.1,1.473)(1.15,1.289)(1.156,1.156)(1.15,1.011)(1.1,0.727)(1.05,0.596)(1,0.523)(0.95,0.493)(0.9,0.506)(0.85,0.579)(0.814,0.814)};
\addplot[ctr,draw=M4!20!M3] coordinates {(0.837,0.837)(0.85,1.006)(0.9,1.226)(0.95,1.349)(1,1.422)(1.05,1.447)(1.1,1.4)(1.14,1.14)(1.1,0.8)(1.05,0.653)(1,0.578)(0.95,0.551)(0.9,0.574)(0.85,0.694)(0.837,0.837)};
\addplot[ctr,draw=M4] coordinates {(0.859,0.859)(0.9,1.157)(0.95,1.295)(1,1.372)(1.05,1.392)(1.1,1.324)(1.124,1.124)(1.1,0.876)(1.05,0.708)(1,0.628)(0.95,0.605)(0.9,0.643)(0.859,0.859)};
\addplot[ctr,draw=M5!80!M4] coordinates {(0.878,0.878)(0.9,1.079)(0.95,1.242)(1,1.323)(1.05,1.339)(1.1,1.227)(1.108,1.108)(1.1,0.973)(1.05,0.761)(1,0.677)(0.95,0.658)(0.9,0.721)(0.878,0.878)};
\addplot[ctr,draw=M6!60!M5] coordinates {(0.898,0.898)(0.92,1.087)(0.95,1.187)(1,1.274)(1.05,1.282)(1.075,1.238)(1.0925,1.0925)(1.075,0.912)(1.05,0.818)(1,0.726)(0.95,0.713)(0.92,0.753)(0.898,0.898)};
\addplot[ctr,draw=M7!40!M6] coordinates {(0.918,0.918)(0.95,1.123)(1,1.221)(1.05,1.217)(1.075,1.075)(1.05,0.883)(1,0.779)(0.95,0.777)(0.918,0.918)};
\addplot[ctr,draw=M8!20!M7] coordinates {(0.941,0.941)(0.97,1.108)(1,1.161)(1.03,1.166)(1.056,1.056)(1.03,0.894)(1,0.839)(0.97,0.832)(0.941,0.941)};
\addplot[ctr,draw=M8] coordinates {(0.975,0.975)(1,1.071)(1.025,1.025)(1,0.929)(0.975,0.975)};
\addplot[ctr,draw=M0] coordinates {(-0.696,-0.696)(-0.7,-0.81)(-0.75,-1.136)(-0.8,-1.322)(-0.85,-1.465)(-0.9,-1.578)(-0.95,-1.666)(-1,-1.729)(-1.05,-1.765)(-1.1,-1.766)(-1.15,-1.719)(-1.2,-1.581)(-1.231,-1.231)(-1.2,-0.819)(-1.15,-0.581)(-1.1,-0.434)(-1.05,-0.335)(-1,-0.271)(-0.95,-0.234)(-0.9,-0.222)(-0.85,-0.235)(-0.8,-0.278)(-0.75,-0.364)(-0.7,-0.59)(-0.696,-0.696)};
\addplot[ctr,draw=M1!80!M0] coordinates {(-0.751,-0.751)(-0.77,-0.991)(-0.8,-1.148)(-0.85,-1.325)(-0.9,-1.455)(-0.95,-1.551)(-1,-1.616)(-1.05,-1.649)(-1.1,-1.64)(-1.15,-1.565)(-1.18,-1.448)(-1.198,-1.198)(-1.18,-0.912)(-1.15,-0.735)(-1.1,-0.56)(-1.05,-0.451)(-1,-0.384)(-0.95,-0.349)(-0.9,-0.345)(-0.85,-0.375)(-0.8,-0.452)(-0.77,-0.549)(-0.751,-0.751)};
\addplot[ctr,draw=M2!60!M1] coordinates {(-0.787,-0.787)(-0.8,-0.978)(-0.85,-1.22)(-0.9,-1.368)(-0.95,-1.471)(-1,-1.539)(-1.05,-1.569)(-1.1,-1.55)(-1.15,-1.438)(-1.175,-1.175)(-1.15,-0.862)(-1.1,-0.65)(-1.05,-0.531)(-1,-0.461)(-0.95,-0.429)(-0.9,-0.432)(-0.85,-0.48)(-0.8,-0.622)(-0.787,-0.787)};
\addplot[ctr,draw=M3!40!M2] coordinates {(-0.814,-0.814)(-0.85,-1.121)(-0.9,-1.294)(-0.95,-1.407)(-1,-1.477)(-1.05,-1.504)(-1.1,-1.473)(-1.15,-1.289)(-1.156,-1.156)(-1.15,-1.011)(-1.1,-0.727)(-1.05,-0.596)(-1,-0.523)(-0.95,-0.493)(-0.9,-0.506)(-0.85,-0.579)(-0.814,-0.814)};
\addplot[ctr,draw=M4!20!M3] coordinates {(-0.837,-0.837)(-0.85,-1.006)(-0.9,-1.226)(-0.95,-1.349)(-1,-1.422)(-1.05,-1.447)(-1.1,-1.4)(-1.14,-1.14)(-1.1,-0.8)(-1.05,-0.653)(-1,-0.578)(-0.95,-0.551)(-0.9,-0.574)(-0.85,-0.694)(-0.837,-0.837)};
\addplot[ctr,draw=M4] coordinates {(-0.859,-0.859)(-0.9,-1.157)(-0.95,-1.295)(-1,-1.372)(-1.05,-1.392)(-1.1,-1.324)(-1.124,-1.124)(-1.1,-0.876)(-1.05,-0.708)(-1,-0.628)(-0.95,-0.605)(-0.9,-0.643)(-0.859,-0.859)};
\addplot[ctr,draw=M5!80!M4] coordinates {(-0.878,-0.878)(-0.9,-1.079)(-0.95,-1.242)(-1,-1.323)(-1.05,-1.339)(-1.1,-1.227)(-1.108,-1.108)(-1.1,-0.973)(-1.05,-0.761)(-1,-0.677)(-0.95,-0.658)(-0.9,-0.721)(-0.878,-0.878)};
\addplot[ctr,draw=M6!60!M5] coordinates {(-0.898,-0.898)(-0.92,-1.087)(-0.95,-1.187)(-1,-1.274)(-1.05,-1.282)(-1.075,-1.238)(-1.0925,-1.0925)(-1.075,-0.912)(-1.05,-0.818)(-1,-0.726)(-0.95,-0.713)(-0.92,-0.753)(-0.898,-0.898)};
\addplot[ctr,draw=M7!40!M6] coordinates {(-0.918,-0.918)(-0.95,-1.123)(-1,-1.221)(-1.05,-1.217)(-1.075,-1.075)(-1.05,-0.883)(-1,-0.779)(-0.95,-0.777)(-0.918,-0.918)};
\addplot[ctr,draw=M8!20!M7] coordinates {(-0.941,-0.941)(-0.97,-1.108)(-1,-1.161)(-1.03,-1.166)(-1.056,-1.056)(-1.03,-0.894)(-1,-0.839)(-0.97,-0.832)(-0.941,-0.941)};
\addplot[ctr,draw=M8] coordinates {(-0.975,-0.975)(-1,-1.071)(-1.025,-1.025)(-1,-0.929)(-0.975,-0.975)};
\end{axis}

% ---------------- D ----------------
\begin{axis}[panel, at={(694pt,79pt)}, width=366pt, height=307pt,
  xmin=0, xmax=8000, ymin=0, ymax=0.745, scaled x ticks=false, scaled y ticks=false,
  xtick={0,2000,4000,6000,8000}, xticklabels={0,2000,4000,6000,8000}, minor xtick={1000,3000,5000,7000},
  ytick={0,0.2,0.4,0.6}, yticklabels={0,0.2,0.4,0.6},
  every axis x label/.style={at={(axis description cs:0.5,-0.202)}, anchor=base, font=\fs{26.5}},
  every axis y label/.style={at={(axis description cs:-0.175,0.5)}, rotate=90, anchor=base, font=\fs{27}},
  xlabel={Time(τ)},
  ylabel={P\raisebox{-0.3em}{\fs{19}well\raisebox{-0.3em}{\fs{15}\,2}}},
  legend style={draw=none, fill=none, at={(0.985,0.982)}, anchor=north east, font=\fs{15}, row sep=2pt},
  legend cell align=left, reverse legend,
  legend image code/.code={\draw[#1, line width=1.2pt] (0pt,0pt) -- (36pt,0pt);},
]
\addplot[black, line width=2pt, sharp plot] coordinates {
(0,0)(50,0.018)(100,0.031)(150,0.042)(200,0.054)(250,0.066)(300,0.077)(350,0.09)(400,0.101)(450,0.11)
(500,0.121)(550,0.13)(600,0.141)(650,0.151)(700,0.16)(750,0.172)(800,0.181)(850,0.19)(900,0.199)(950,0.207)
(1000,0.216)(1050,0.224)(1100,0.231)(1150,0.24)(1200,0.247)(1250,0.253)(1300,0.261)(1350,0.268)(1400,0.275)(1450,0.283)
(1500,0.288)(1550,0.293)(1600,0.297)(1650,0.305)(1700,0.31)(1750,0.314)(1800,0.318)(1850,0.32)(1900,0.324)(1950,0.326)
(2000,0.331)(2050,0.336)(2100,0.339)(2150,0.345)(2200,0.349)(2250,0.354)(2300,0.358)(2350,0.364)(2400,0.369)(2450,0.375)
(2500,0.381)(2550,0.386)(2600,0.392)(2650,0.396)(2700,0.401)(2750,0.407)(2800,0.41)(2850,0.41)(2900,0.412)(2950,0.411)
(3000,0.414)(3050,0.413)(3100,0.416)(3150,0.415)(3200,0.419)(3250,0.422)(3300,0.424)(3350,0.426)(3400,0.431)(3450,0.433)
(3500,0.428)(3550,0.426)(3600,0.429)(3650,0.434)(3700,0.433)(3750,0.438)(3800,0.441)(3850,0.442)(3900,0.444)(3950,0.446)
(4000,0.447)(4050,0.447)(4100,0.449)(4150,0.448)(4200,0.45)(4250,0.451)(4300,0.452)(4350,0.451)(4400,0.454)(4450,0.455)
(4500,0.457)(4550,0.459)(4600,0.463)(4650,0.462)(4700,0.464)(4750,0.466)(4800,0.465)(4850,0.464)(4900,0.466)(4950,0.465)
(5000,0.463)(5050,0.464)(5100,0.462)(5150,0.461)(5200,0.462)(5250,0.46)(5300,0.461)(5350,0.459)(5400,0.458)(5450,0.46)
(5500,0.459)(5550,0.461)(5600,0.462)(5650,0.461)(5700,0.463)(5750,0.465)(5800,0.466)(5850,0.466)(5900,0.468)(5950,0.47)
(6000,0.471)(6050,0.474)(6100,0.473)(6150,0.476)(6200,0.478)(6250,0.479)(6300,0.481)(6350,0.483)(6400,0.484)(6450,0.486)
(6500,0.487)(6550,0.49)(6600,0.492)(6650,0.497)(6700,0.501)(6750,0.499)(6800,0.496)(6850,0.497)(6900,0.494)(6950,0.491)
(7000,0.492)(7050,0.49)(7100,0.487)(7150,0.486)(7200,0.484)(7250,0.482)(7300,0.483)(7350,0.48)(7400,0.478)(7450,0.479)
(7500,0.477)(7550,0.479)(7600,0.481)(7650,0.484)(7700,0.483)(7750,0.487)(7800,0.489)(7850,0.488)(7900,0.491)(7950,0.49)(8000,0.492)};
\addlegendentry{Langevin dynamics simulation}
\addplot[curvered, line width=1.6pt, dash pattern=on 7pt off 4pt, smooth] coordinates {
(0,0)(100,0.029)(200,0.057)(300,0.083)(400,0.106)(500,0.128)(600,0.149)(700,0.169)(800,0.19)(900,0.211)
(1000,0.23)(1200,0.262)(1400,0.285)(1600,0.305)(1800,0.326)(2000,0.343)(2200,0.364)(2400,0.381)(2600,0.395)(2800,0.408)
(3000,0.417)(3300,0.43)(3600,0.441)(4000,0.453)(4500,0.464)(5000,0.473)(5500,0.479)(6000,0.484)(6500,0.487)(7000,0.488)(7500,0.489)(8000,0.49)};
\addlegendentry{Numerical solution of FPE}
\end{axis}

% ---------------- inset ----------------
\pgfplotsset{ctr/.style={line width=0.5pt, smooth}}
\begin{axis}[panel, at={(889pt,110pt)}, width=127pt, height=121pt,
  axis background/.style={fill=white},
  axis line style={line width=0.8pt, draw=axgray},
  major tick length=2.5pt, minor tick length=2.5pt, tick style={line width=0.5pt},
  ticklabel style={font=\fs{8}, text=black!75},
  xmin=-2, xmax=2, ymin=-3, ymax=4,
  xtick={-2,-1,0,1,2}, xticklabels={−2,−1,0,1,2},
  ytick={-3,-2,-1,0,1,2,3,4}, yticklabels={−3,−2,−1,0,1,2,3,4},
  every axis x label/.style={at={(axis description cs:0.5,-0.16)}, anchor=base, font=\fs{8.5}, text=black!75},
  every axis y label/.style={at={(axis description cs:-0.13,0.5)}, rotate=90, anchor=base, font=\fs{8.5}, text=black!75},
  xlabel={Chemical coordinate \textit{s}}, ylabel={Mechanical coordinate \textit{x}},
  colormap name=mjet, colorbar, point meta min=5.3, point meta max=264,
  colorbar/width=8pt,
  colorbar style={at={(parent axis.north east)}, anchor=north west, xshift=6pt,
    scale only axis, width=8pt, height=121pt,
    axis line style={line width=0.5pt, draw=axgray},
    scaled y ticks=false,
    ytick={50,100,150,200,250}, yticklabels={50,100,150,200,250},
    ytick pos=right, yticklabel pos=right, tick align=inside, major tick length=2pt,
    tick style={line width=0.4pt, draw=axgray},
    yticklabel style={font=\fs{8}, text=black!75}},
]
\ContoursA
\addplot[black!80, line width=0.9pt, dash pattern=on 3pt off 2pt, sharp plot] coordinates {(0,-3)(0,4)};
\addplot[only marks, mark=*, mark size=0.9pt, color=red] coordinates {(-1,-1)(1,1)};
\addplot[only marks, mark=*, mark size=0.9pt, color=M8] coordinates {(0,0)};
\node[text=wellred, font=\fs{10}, anchor=base] at (axis cs:-0.82,-2.75) {Well 1};
\node[text=wellred, font=\fs{10}, anchor=base] at (axis cs:1.41,-2.75) {Well 2};
\end{axis}

% panel letters
\node[font=\fs{40}, text=black!85] at (24pt,466pt) {A};
\node[font=\fs{40}, text=black!85] at (652pt,466pt) {B};
\node[font=\fs{40}, text=black!85] at (26pt,22pt) {C};
\node[font=\fs{40}, text=black!85] at (652pt,22pt) {D};
\end{tikzpicture}
\end{document}
